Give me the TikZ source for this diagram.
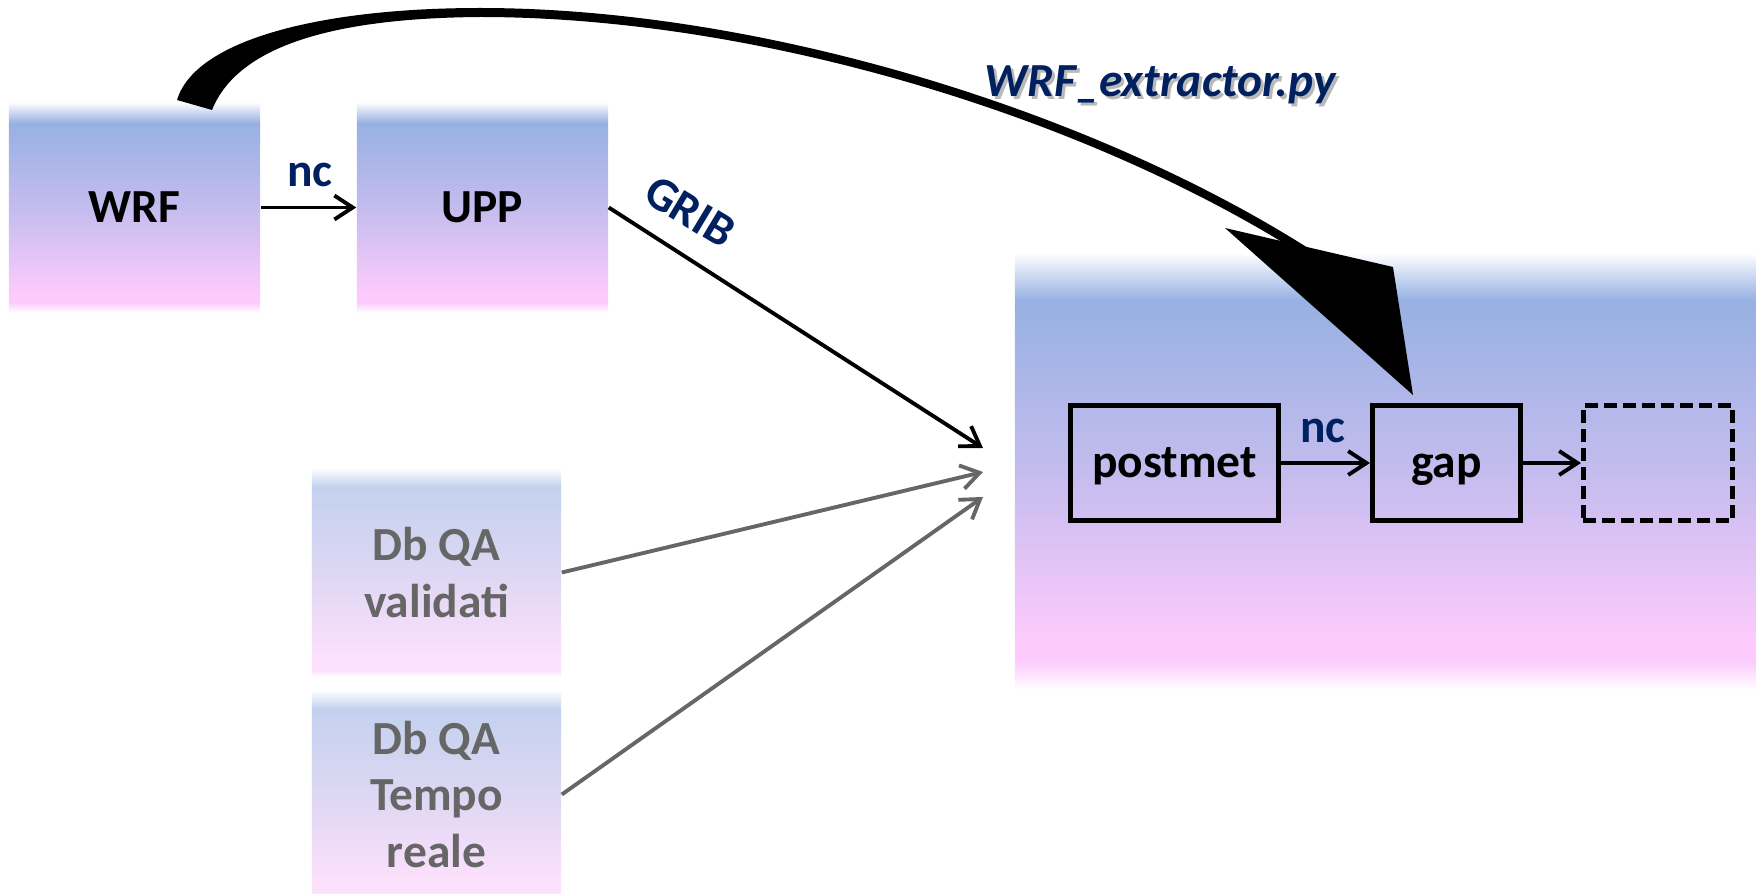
\documentclass[tikz,border=0pt]{standalone}
\usepackage{fontspec}
\setmainfont{Carlito}
\usetikzlibrary{arrows.meta}
\definecolor{navy}{HTML}{002060}
\definecolor{tb}{HTML}{97B1E2}
\definecolor{tm}{HTML}{C4BCEE}
\definecolor{tp}{HTML}{FCCAFC}
\definecolor{lb}{HTML}{C3D1EE}
\definecolor{lm}{HTML}{DDD7F3}
\definecolor{lp}{HTML}{FCE0FC}
\definecolor{txtgray}{HTML}{666666}
\pgfdeclareverticalshading{shMain}{100bp}{color(0bp)=(white); color(25bp)=(white); color(27.6bp)=(tp); color(30bp)=(tp); color(50bp)=(tm); color(70bp)=(tb); color(75bp)=(white); color(100bp)=(white)}
\pgfdeclareverticalshading{shBig}{100bp}{color(0bp)=(white); color(25bp)=(white); color(28.4bp)=(tp); color(31bp)=(tp); color(50bp)=(tm); color(69.6bp)=(tb); color(75bp)=(white); color(100bp)=(white)}
\pgfdeclareverticalshading{shLight}{100bp}{color(0bp)=(white); color(25bp)=(white); color(26.7bp)=(lp); color(30bp)=(lp); color(50bp)=(lm); color(70.5bp)=(lb); color(75bp)=(white); color(100bp)=(white)}
\begin{document}
\begin{tikzpicture}[x=0.01cm,y=-0.01cm,
  font=\fontsize{13.5pt}{16.2pt}\selectfont\bfseries,
  gbox/.style={shade, shading=shMain, inner sep=0pt, minimum width=2.51cm, minimum height=2.11cm, text height=10.5pt, text depth=2pt},
  lbox/.style={shade, shading=shLight, inner sep=0pt, minimum width=2.49cm, minimum height=2.09cm, text=txtgray, align=center},
  pbox/.style={draw, line width=1.4pt, inner sep=0pt, minimum height=1.15cm, text height=10.5pt, text depth=2pt},
  arr/.style={line width=1.1pt, -{Straight Barb[length=5.2pt,width=6.8pt]}},
  lbl/.style={text=navy}
]
\useasboundingbox (0,0) rectangle (1756,894);
\begin{scope}
\clip (0,0) rectangle (1756,894);
% boxes
\node[gbox] (wrf) at (134.5,207.5) {WRF};
\node[gbox] (upp) at (482.5,207.5) {UPP};
\node[shade, shading=shBig, inner sep=0pt, minimum width=7.41cm, minimum height=4.37cm] (proc) at (1385.5,471.5) {};
\node[lbox] (dbv) at (436.5,572.5) {Db QA\\validati};
\node[lbox] (dbt) at (436.5,794.5) {Db QA\\Tempo\\reale};
\node[pbox, minimum width=2.08cm] (post) at (1174.5,463) {postmet};
\node[pbox, minimum width=1.48cm] (gap) at (1446.5,463) {gap};
\node[pbox, dash pattern=on 3.7pt off 1.7pt, minimum width=1.49cm] (out) at (1658,463) {};
% connectors
\coordinate (m1) at (983,448);
\coordinate (m2) at (983,472);
\coordinate (m3) at (983,497);
\draw[arr] (wrf.east) -- (upp.west);
\node[lbl, anchor=base] (nc1) at (310,187) {nc};
\draw[arr] (upp.east) -- (m1);
\node[lbl, rotate=-31, text height=10.5pt, text depth=2pt] (grib) at (690,212) {GRIB};
\draw[arr, draw=txtgray] (dbv.east) -- (m2);
\draw[arr, draw=txtgray] (dbt.east) -- (m3);
\draw[arr] (post.east) -- (gap.west);
\node[lbl, anchor=base] (nc2) at (1323,443) {nc};
\draw[arr] (gap.east) -- (out.west);
% big tapered curved arrow
\coordinate (cs1) at (177,100);
\coordinate (cs2) at (212,110);
\coordinate (ce1) at (1308,248);
\coordinate (ce2) at (1303,255);
\fill[black] (cs1) .. controls (195,40) and (320,8) .. (480,8)
  .. controls (760,8) and (1090,110) .. (ce1) -- (ce2)
  .. controls (1086,117) and (760,17) .. (480,17)
  .. controls (350,18) and (240,40) .. (cs2) -- cycle;
\coordinate (hl) at (1225,228);
\coordinate (ht) at (1413,395);
\coordinate (hr) at (1393,267);
\fill[black] (hl) -- (ht) -- (hr) -- cycle;
\node[anchor=base, text=gray!55, font=\fontsize{13.5pt}{16.2pt}\selectfont\bfseries\itshape] (extsh) at (1163,100) {WRF\_extractor.py};
\node[anchor=base, text=navy, font=\fontsize{13.5pt}{16.2pt}\selectfont\bfseries\itshape] (ext) at (1160,97) {WRF\_extractor.py};
\end{scope}
\end{tikzpicture}
\end{document}
